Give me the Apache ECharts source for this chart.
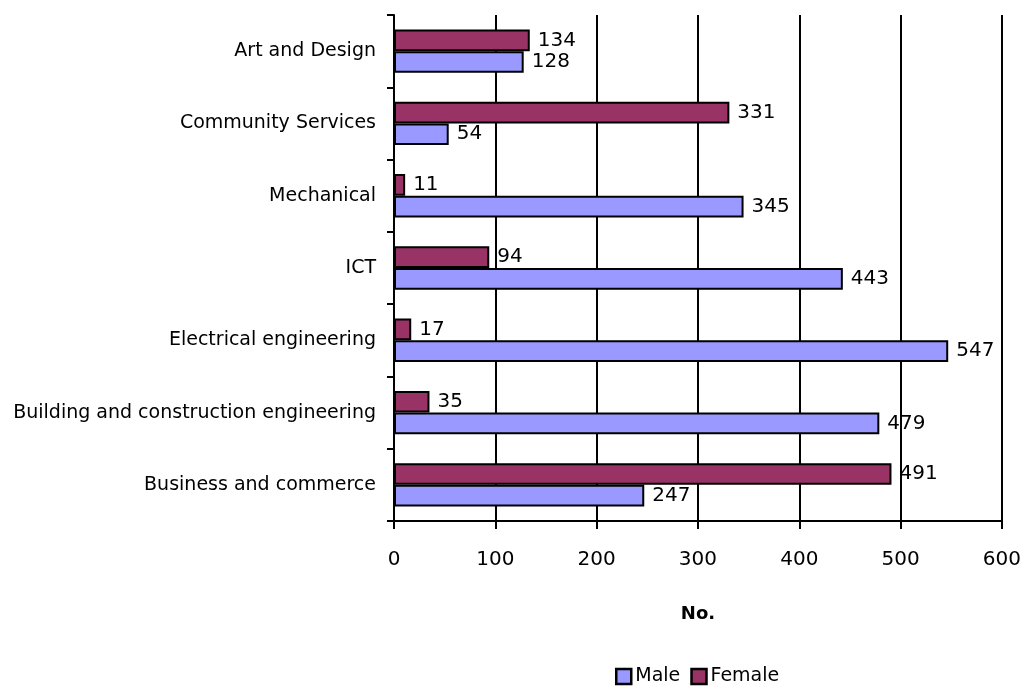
<!DOCTYPE html>
<html>
<head>
<meta charset="utf-8">
<script src="https://cdn.jsdelivr.net/npm/echarts@6/dist/echarts.min.js"></script>
<style>
  html, body { margin: 0; padding: 0; background: #fff; }
  #chart { width: 1024px; height: 691px; }
</style>
</head>
<body>
<div id="chart"></div>
<script>
// Enrolments by field of study, bottom to top
const categories = [
  'Business and commerce',
  'Building and construction engineering',
  'Electrical engineering',
  'ICT',
  'Mechanical',
  'Community Services',
  'Art and Design'
];
const maleValues = [247, 479, 547, 443, 345, 54, 128];
const femaleValues = [491, 35, 17, 94, 11, 331, 134];
const xTicks = [0, 100, 200, 300, 400, 500, 600];

const FONT = '"DejaVu Sans", sans-serif';

const chart = echarts.init(document.getElementById('chart'), null, { renderer: 'canvas' });

const labelStyle = {
  show: true,
  position: 'right',
  distance: 8,
  color: '#000',
  fontFamily: FONT,
  fontSize: 20
};

chart.setOption({
  animation: false,
  textStyle: { fontFamily: FONT },
  grid: { left: 394, right: 21, top: 15, bottom: 170, containLabel: false },
  legend: {
    data: ['Male', 'Female'],
    bottom: 0,
    left: 610,
    itemWidth: 15,
    itemHeight: 15,
    itemGap: 10,
    itemStyle: { borderColor: '#000', borderWidth: 2.5 },
    textStyle: { fontFamily: FONT, fontSize: 19, color: '#000', padding: [0, 0, 0, -1] },
    icon: 'rect'
  },
  xAxis: {
    type: 'value',
    min: xTicks[0],
    max: xTicks[xTicks.length - 1],
    interval: xTicks[1] - xTicks[0],
    name: 'No.',
    nameLocation: 'middle',
    nameGap: 84,
    nameTextStyle: { fontFamily: FONT, fontSize: 18, fontWeight: 'bold', color: '#000' },
    axisLine: { show: true, lineStyle: { color: '#000', width: 2 } },
    axisTick: { show: true, length: 8, lineStyle: { color: '#000', width: 2 } },
    axisLabel: { color: '#000', fontFamily: FONT, fontSize: 20, margin: 29 },
    splitLine: { show: true, lineStyle: { color: '#000', width: 2 } }
  },
  yAxis: {
    type: 'category',
    data: categories,
    axisLine: { show: true, lineStyle: { color: '#000', width: 2 } },
    axisTick: { show: true, length: 7, lineStyle: { color: '#000', width: 2 } },
    axisLabel: { color: '#000', fontFamily: FONT, fontSize: 19, margin: 18 },
    splitLine: { show: false }
  },
  // Female is listed first so its bar sits above the male bar in each row
  series: [
    {
      name: 'Female',
      type: 'bar',
      data: femaleValues,
      barGap: '0%',
      barCategoryGap: '40%',
      itemStyle: { color: '#993366', borderColor: '#000', borderWidth: 2 },
      label: labelStyle
    },
    {
      name: 'Male',
      type: 'bar',
      data: maleValues,
      barGap: '0%',
      barCategoryGap: '40%',
      itemStyle: { color: '#9999FF', borderColor: '#000', borderWidth: 2 },
      label: labelStyle
    }
  ]
});
</script>
</body>
</html>
